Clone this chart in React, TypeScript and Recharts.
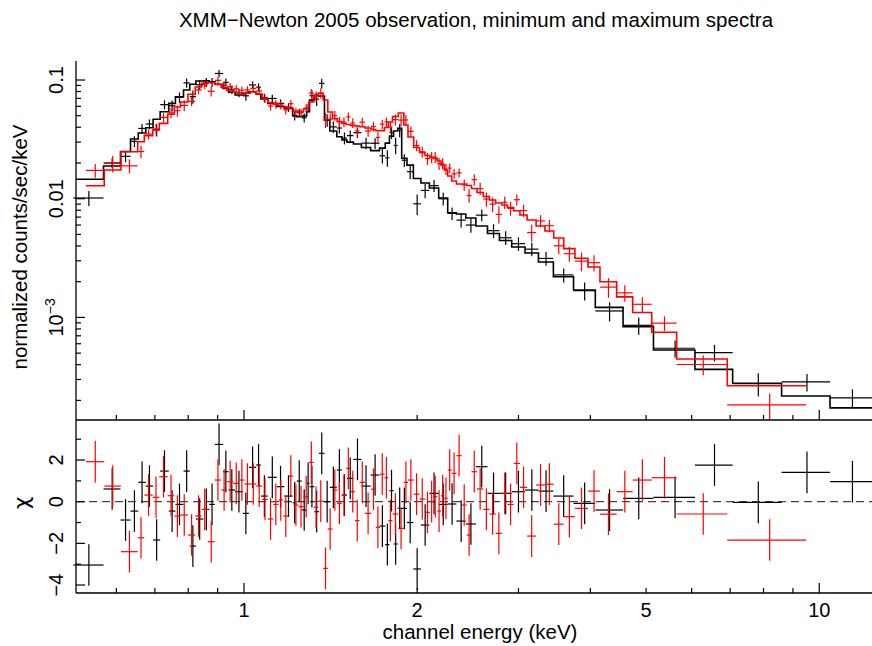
import {
  ComposedChart,
  Line,
  Scatter,
  ErrorBar,
  XAxis,
  YAxis,
  ReferenceLine,
  Label,
} from "recharts";

// black = minimum spectrum, red = maximum spectrum (XMM-Newton 2005)
// bin edges in keV, model / data in counts/sec/keV, chi residuals

const blkEdges = [
  0.505, 0.57, 0.61, 0.635, 0.655, 0.675, 0.695, 0.715, 0.74, 0.76, 0.785, 0.805, 0.825, 0.85,
  0.87, 0.89, 0.92, 0.94, 0.965, 0.995, 1.02, 1.05, 1.07, 1.1, 1.14, 1.175, 1.215, 1.235, 1.26,
  1.285, 1.3, 1.325, 1.35, 1.38, 1.41, 1.45, 1.48, 1.51, 1.55, 1.6, 1.66, 1.72, 1.76, 1.79, 1.82,
  1.85, 1.88, 1.92, 1.97, 2.03, 2.1, 2.18, 2.26, 2.34, 2.43, 2.53, 2.65, 2.78, 2.92, 3.08, 3.25,
  3.45, 3.74, 4.08, 4.56, 5.15, 6.08, 7.07, 8.6, 10.44, 12.4,
];
const blkModel = [
  0.01457, 0.01886, 0.02497, 0.03184, 0.03577, 0.03963, 0.04665, 0.05405, 0.0636, 0.0723,
  0.0824, 0.092, 0.0981, 0.0986, 0.0968, 0.092, 0.0851, 0.0788, 0.0747, 0.0773,
  0.0797, 0.0758, 0.0692, 0.0636, 0.0598, 0.0575, 0.05, 0.0491, 0.0497, 0.054,
  0.0679, 0.0733, 0.0733, 0.046, 0.0372, 0.0333, 0.0312, 0.03, 0.0289, 0.027,
  0.0254, 0.0267, 0.0294, 0.0337, 0.0372, 0.0392, 0.0219, 0.0192, 0.0148, 0.01356,
  0.0123, 0.01014, 0.00762, 0.00743, 0.00688, 0.00589, 0.00509, 0.00444, 0.00392, 0.00349,
  0.00293, 0.0022, 0.0017, 0.001216, 0.000835, 0.000531, 0.000365, 0.000279, 0.000218, 0.000173,
];
const blkFlux = [
  0.01014, 0.02001, 0.02277, 0.03041, 0.0391, 0.0426, 0.03807, 0.062, 0.0607, 0.0714,
  0.0945, 0.0724, 0.0912, 0.0955, 0.0957, 0.1135, 0.0955, 0.0826, 0.0778, 0.0736,
  0.0909, 0.0871, 0.0708, 0.0699, 0.0635, 0.0588, 0.0498, 0.0532, 0.048, 0.058,
  0.0738, 0.0691, 0.0937, 0.046, 0.0403, 0.0394, 0.0324, 0.034, 0.036, 0.0294,
  0.0293, 0.023, 0.0221, 0.0359, 0.0281, 0.0377, 0.0211, 0.0169, 0.00906, 0.01174,
  0.01289, 0.00998, 0.00752, 0.0066, 0.006, 0.00727, 0.00538, 0.00469, 0.00418, 0.00376,
  0.00314, 0.00228, 0.00168, 0.001133, 0.000858, 0.00055, 0.000506, 0.000277, 0.000286, 0.00021,
];
const blkErr = [
  0.00146, 0.00189, 0.0025, 0.00318, 0.00358, 0.00396, 0.00467, 0.0054, 0.00636, 0.00723,
  0.00824, 0.0092, 0.00834, 0.00838, 0.00823, 0.00782, 0.00723, 0.0067, 0.00635, 0.00657,
  0.00677, 0.00644, 0.00588, 0.00541, 0.00508, 0.00489, 0.00425, 0.00417, 0.00422, 0.00459,
  0.00815, 0.0088, 0.0088, 0.00552, 0.00446, 0.004, 0.00374, 0.0036, 0.00347, 0.00324,
  0.00305, 0.0032, 0.00353, 0.00404, 0.00446, 0.0047, 0.00263, 0.0023, 0.00178, 0.00163,
  0.00148, 0.00122, 0.000914, 0.000892, 0.000826, 0.000825, 0.000713, 0.000622, 0.000549, 0.000489,
  0.00041, 0.000308, 0.000289, 0.000207, 0.000142, 0.0000903, 0.0000803, 0.0000614, 0.000048, 0.000038,
];
const blkChi = [
  -3.04, 0.61, -0.88, -0.45, 0.93, 0.75, -1.84, 1.47, -0.45, -0.13,
  1.47, -2.13, -0.83, -0.37, -0.13, 2.75, 1.44, 0.56, 0.48, -0.56,
  1.65, 1.76, 0.27, 1.17, 0.72, 0.27, -0.05, 0.99, -0.4, 0.88,
  0.72, -0.48, 2.32, 0, 0.69, 1.52, 0.32, 1.12, 2.03, 0.75,
  1.28, -1.17, -2.06, 0.53, -2.03, -0.32, -0.32, -1.0, -3.23, -1.12,
  0.4, -0.13, -0.11, -0.93, -1.07, 1.68, 0.4, 0.4, 0.48, 0.56,
  0.51, 0.27, -0.08, -0.4, 0.16, 0.21, 1.76, -0.03, 1.41, 0.96,
];

const redEdges = [
  0.5312, 0.5716, 0.6111, 0.6535, 0.671, 0.694, 0.7125, 0.7369, 0.7566, 0.7756, 0.799, 0.8228,
  0.8442, 0.8647, 0.8894, 0.9128, 0.9342, 0.9581, 0.981, 1.002, 1.0255, 1.0505, 1.0755, 1.0999,
  1.1244, 1.1472, 1.1704, 1.1941, 1.2182, 1.2439, 1.269, 1.2962, 1.3224, 1.3464, 1.3731, 1.3986,
  1.4252, 1.4521, 1.4785, 1.5054, 1.5315, 1.5594, 1.5878, 1.6231, 1.6638, 1.6947, 1.7235, 1.7548,
  1.7817, 1.8119, 1.8545, 1.8958, 1.9279, 1.9724, 2.0187, 2.0636, 2.1053, 2.1333, 2.1669, 2.1999,
  2.2292, 2.2598, 2.2963, 2.3409, 2.3902, 2.4385, 2.4858, 2.541, 2.6059, 2.6713, 2.7383, 2.8082,
  2.8707, 2.9428, 3.0178, 3.1059, 3.2198, 3.3352, 3.4547, 3.5958, 3.7611, 3.9619, 4.1574, 4.4443,
  4.7394, 5.1138, 5.6511, 6.9195, 9.4818,
];
const redModel = [
  0.01287, 0.01745, 0.02489, 0.0302, 0.03394, 0.03791, 0.04316, 0.0514, 0.05922, 0.06526,
  0.07576, 0.0873, 0.0938, 0.0949, 0.0917, 0.0865, 0.0816, 0.0788, 0.0758, 0.0773,
  0.0797, 0.0762, 0.0688, 0.0646, 0.063, 0.061, 0.0592, 0.0575, 0.0548, 0.0541,
  0.057, 0.0653, 0.0747, 0.0773, 0.0679, 0.0538, 0.0474, 0.0447, 0.043, 0.0422,
  0.0415, 0.041, 0.0404, 0.0394, 0.0383, 0.0374, 0.0375, 0.0398, 0.0443, 0.0493,
  0.0527, 0.0418, 0.0331, 0.027, 0.0245, 0.0231, 0.0223, 0.0218, 0.0208, 0.0192,
  0.01745, 0.01553, 0.0141, 0.0133, 0.0133, 0.01292, 0.01219, 0.01128, 0.01043, 0.00975,
  0.0092, 0.00885, 0.00843, 0.00792, 0.00729, 0.00661, 0.00589, 0.00534, 0.00467, 0.0038,
  0.00315, 0.00266, 0.002, 0.00149, 0.0011, 0.000749, 0.000446, 0.000266,
];
const redFlux = [
  0.01732, 0.0198, 0.01892, 0.02498, 0.03503, 0.03871, 0.04834, 0.05289, 0.05513, 0.06108,
  0.06606, 0.08248, 0.09102, 0.08032, 0.09933, 0.09038, 0.08787, 0.08435, 0.08211, 0.08256,
  0.08512, 0.08077, 0.0694, 0.06031, 0.06234, 0.06139, 0.05593, 0.06316, 0.0541, 0.05306,
  0.05809, 0.07764, 0.07268, 0.07753, 0.04617, 0.04675, 0.05005, 0.04434, 0.04429, 0.04895,
  0.04349, 0.03727, 0.04416, 0.03719, 0.0406, 0.0328, 0.04245, 0.04438, 0.04027, 0.04639,
  0.04595, 0.04608, 0.03689, 0.02807, 0.02485, 0.0218, 0.0223, 0.02238, 0.01977, 0.01981,
  0.01776, 0.01813, 0.01621, 0.01653, 0.01307, 0.01065, 0.01447, 0.01217, 0.00993, 0.009,
  0.00738, 0.00931, 0.00829, 0.00981, 0.00794, 0.00519, 0.0065, 0.00592, 0.00401, 0.00344,
  0.00298, 0.00289, 0.0018, 0.00161, 0.00129, 0.000895, 0.000401, 0.000183,
];
const redErr = [
  0.00232, 0.00314, 0.00249, 0.00302, 0.00339, 0.00379, 0.00432, 0.00514, 0.00592, 0.00653,
  0.00606, 0.00698, 0.0075, 0.00759, 0.00734, 0.00692, 0.00653, 0.0063, 0.00606, 0.00618,
  0.00638, 0.0061, 0.0055, 0.00517, 0.00504, 0.00488, 0.00474, 0.0046, 0.00438, 0.00433,
  0.00456, 0.00653, 0.00747, 0.00773, 0.00679, 0.00538, 0.00474, 0.00447, 0.0043, 0.00422,
  0.00415, 0.0041, 0.00404, 0.00394, 0.00383, 0.00374, 0.00375, 0.00398, 0.00443, 0.00493,
  0.00527, 0.0046, 0.00364, 0.00297, 0.0027, 0.00254, 0.00245, 0.0024, 0.00229, 0.00211,
  0.00192, 0.00171, 0.00155, 0.00146, 0.00146, 0.00142, 0.00158, 0.00147, 0.00136, 0.00127,
  0.0012, 0.00115, 0.0011, 0.00103, 0.000948, 0.000859, 0.000766, 0.000694, 0.000607, 0.000494,
  0.000536, 0.000452, 0.00034, 0.000253, 0.000187, 0.000127, 0.0000758, 0.0000452,
];
const redChi = [
  1.92, 0.75, -2.4, -1.73, 0.32, 0.21, 1.2, 0.29, -0.69, -0.64,
  -1.6, -0.69, -0.37, -1.92, 1.04, 0.56, 0.96, 0.88, 1.04, 0.85,
  0.85, 0.75, 0.11, -0.83, -0.13, 0.08, -0.69, 1.23, -0.16, -0.24,
  0.24, 1.89, -0.27, 0.03, -3.2, -1.31, 0.56, -0.08, 0.3, 1.6,
  0.48, -0.91, 0.93, -0.56, 0.6, -1.23, 1.32, 1.15, -0.91, -0.59,
  -1.28, 0.93, 1.04, 0.36, 0.13, -0.51, 0, 0.24, -0.45, 0.29,
  0.16, 1.52, 1.36, 2.21, -0.16, -1.6, 1.44, 0.61, -0.37, -0.59,
  -1.52, 0.4, -0.13, 1.84, 0.69, -1.65, 0.8, 0.84, -1.08, -0.72,
  -0.32, 0.51, -0.6, 0.48, 1.04, 1.15, -0.59, -1.84,
];

const xTicks = [0.6, 0.7, 0.8, 0.9, 1, 2, 3, 4, 5, 6, 7, 8, 9, 10];
const xTickLabels = [1, 2, 5, 10];
const yTicks = [
  2e-4, 3e-4, 4e-4, 5e-4, 6e-4, 7e-4, 8e-4, 9e-4, 1e-3, 2e-3, 3e-3, 4e-3, 5e-3, 6e-3, 7e-3, 8e-3,
  9e-3, 0.01, 0.02, 0.03, 0.04, 0.05, 0.06, 0.07, 0.08, 0.09, 0.1,
];
const chiTicks = [-4, -3, -2, -1, 0, 1, 2, 3];
const chiTickLabels = [-4, -2, 0, 2];

const X_DOMAIN = [0.5105, 12.35];
const Y_DOMAIN = [1.367e-4, 0.1446];
const CHI_DOMAIN = [-4.383, 3.922];

const FONT = '"Liberation Sans", Arial, Helvetica, sans-serif';
const TICK_FS = 20;
const LABEL_FS = 20.5;
const RED = "#ff0000";
const BLK = "#000000";

// step line: one point per bin low edge plus the final high edge
function steps(edges: number[], model: number[]) {
  const pts = model.map((m, i) => ({ x: edges[i], y: m }));
  pts.push({ x: edges[edges.length - 1], y: model[model.length - 1] });
  return pts;
}

function crosses(edges: number[], vals: number[], errs: number[] | null) {
  return vals.map((v, i) => {
    const lo = edges[i];
    const hi = edges[i + 1];
    const c = (lo + hi) / 2;
    return { x: c, y: v, xe: [c - lo, hi - c], ye: errs ? errs[i] : 1 };
  });
}

const blkSteps = steps(blkEdges, blkModel);
const redSteps = steps(redEdges, redModel);
const blkData = crosses(blkEdges, blkFlux, blkErr);
const redData = crosses(redEdges, redFlux, redErr);
const blkRes = crosses(blkEdges, blkChi, null);
const redRes = crosses(redEdges, redChi, null);

const isDecade = (v: number) => Math.abs(Math.log10(v) - Math.round(Math.log10(v))) < 1e-6;

const NoDot = () => <g />;

function EnergyTick(props: any) {
  const { x, y, payload, dir, labels } = props;
  const v = payload.value;
  const len = isDecade(v) ? 10 : 5;
  return (
    <g>
      <line x1={x} y1={y} x2={x} y2={y + dir * len} stroke={BLK} strokeWidth={1.2} />
      {labels && xTickLabels.includes(v) && (
        <text x={x} y={y + 24} textAnchor="middle" fontSize={TICK_FS} fontFamily={FONT} fill={BLK}>
          {v}
        </text>
      )}
    </g>
  );
}

function FluxTick(props: any) {
  const { x, y, payload } = props;
  const v = payload.value;
  const major = isDecade(v);
  let label: any = null;
  if (major) {
    if (v > 0.05) label = "0.1";
    else if (v > 0.005) label = "0.01";
    else
      label = (
        <>
          <tspan>10</tspan>
          <tspan dy={-8} fontSize={14}>
            −3
          </tspan>
        </>
      );
  }
  return (
    <g>
      <line x1={x} y1={y} x2={x + (major ? 9 : 5)} y2={y} stroke={BLK} strokeWidth={1.2} />
      {label && (
        <text
          transform={`translate(${x - 13},${y}) rotate(-90)`}
          textAnchor="middle"
          fontSize={TICK_FS}
          fontFamily={FONT}
          fill={BLK}
        >
          {label}
        </text>
      )}
    </g>
  );
}

function ChiTick(props: any) {
  const { x, y, payload } = props;
  const v = payload.value;
  const major = chiTickLabels.includes(v);
  return (
    <g>
      <line x1={x} y1={y} x2={x + (major ? 9 : 5)} y2={y} stroke={BLK} strokeWidth={1.2} />
      {major && (
        <text
          transform={`translate(${x - 13},${y}) rotate(-90)`}
          textAnchor="middle"
          fontSize={TICK_FS}
          fontFamily={FONT}
          fill={BLK}
        >
          {v < 0 ? `−${Math.abs(v)}` : v}
        </text>
      )}
    </g>
  );
}

const axisLine = { stroke: BLK, strokeWidth: 1.3 };

export default function App() {
  return (
    <div
      style={{
        position: "absolute",
        left: 0,
        top: 0,
        width: 872,
        height: 646,
        background: "#fff",
        overflow: "hidden",
      }}
    >
      <div
        style={{
          position: "absolute",
          left: 76,
          top: 6,
          width: 800,
          textAlign: "center",
          fontFamily: FONT,
          fontSize: 20.5,
          lineHeight: "27px",
          color: BLK,
        }}
      >
        XMM−Newton 2005 observation, minimum and maximum spectra
      </div>

      <div style={{ position: "absolute", left: 0, top: 0 }}>
        <ComposedChart width={872} height={430} margin={{ top: 61, right: 0, bottom: 0, left: 0 }}>
          <XAxis
            dataKey="x"
            type="number"
            scale="log"
            domain={X_DOMAIN}
            allowDataOverflow
            ticks={xTicks}
            interval={0}
            height={10}
            tickSize={0}
            tickMargin={0}
            tickLine={false}
            axisLine={axisLine}
            tick={(p: any) => <EnergyTick {...p} dir={-1} labels={false} />}
          />
          <XAxis
            xAxisId="t"
            orientation="top"
            type="number"
            scale="log"
            domain={X_DOMAIN}
            allowDataOverflow
            ticks={xTicks}
            interval={0}
            height={0}
            tickSize={0}
            tickMargin={0}
            tickLine={false}
            axisLine={axisLine}
            tick={(p: any) => <EnergyTick {...p} dir={1} labels={false} />}
          />
          <YAxis
            dataKey="y"
            type="number"
            scale="log"
            domain={Y_DOMAIN}
            allowDataOverflow
            ticks={yTicks}
            interval={0}
            width={76}
            tickSize={0}
            tickMargin={0}
            tickLine={false}
            axisLine={axisLine}
            tick={(p: any) => <FluxTick {...p} />}
          >
            <Label
              content={() => (
                <text
                  transform="translate(27,247) rotate(-90)"
                  textAnchor="middle"
                  fontSize={LABEL_FS}
                  fontFamily={FONT}
                  fill={BLK}
                >
                  normalized counts/sec/keV
                </text>
              )}
            />
          </YAxis>

          <Scatter data={blkData} fill={BLK} shape={NoDot} isAnimationActive={false} legendType="none">
            <ErrorBar dataKey="xe" direction="x" width={0} stroke={BLK} strokeWidth={1.2} />
            <ErrorBar dataKey="ye" direction="y" width={0} stroke={BLK} strokeWidth={1.2} />
          </Scatter>
          <Line
            data={blkSteps}
            dataKey="y"
            type="stepAfter"
            stroke={BLK}
            strokeWidth={1.6}
            dot={false}
            activeDot={false}
            isAnimationActive={false}
          />
          <Scatter data={redData} fill={RED} shape={NoDot} isAnimationActive={false} legendType="none">
            <ErrorBar dataKey="xe" direction="x" width={0} stroke={RED} strokeWidth={1.2} />
            <ErrorBar dataKey="ye" direction="y" width={0} stroke={RED} strokeWidth={1.2} />
          </Scatter>
          <Line
            data={redSteps}
            dataKey="y"
            type="stepAfter"
            stroke={RED}
            strokeWidth={1.6}
            dot={false}
            activeDot={false}
            isAnimationActive={false}
          />
        </ComposedChart>
      </div>

      <div style={{ position: "absolute", left: 0, top: 410 }}>
        <ComposedChart width={872} height={236} margin={{ top: 10, right: 0, bottom: 0, left: 0 }}>
          <XAxis
            dataKey="x"
            type="number"
            scale="log"
            domain={X_DOMAIN}
            allowDataOverflow
            ticks={xTicks}
            interval={0}
            height={53}
            tickSize={0}
            tickMargin={0}
            tickLine={false}
            axisLine={axisLine}
            tick={(p: any) => <EnergyTick {...p} dir={-1} labels />}
          >
            <Label
              content={() => (
                <text x={480} y={229} textAnchor="middle" fontSize={LABEL_FS} fontFamily={FONT} fill={BLK}>
                  channel energy (keV)
                </text>
              )}
            />
          </XAxis>
          <XAxis
            xAxisId="t"
            orientation="top"
            type="number"
            scale="log"
            domain={X_DOMAIN}
            allowDataOverflow
            ticks={xTicks}
            interval={0}
            height={0}
            tickSize={0}
            tickMargin={0}
            tickLine={false}
            axisLine={axisLine}
            tick={(p: any) => <EnergyTick {...p} dir={1} labels={false} />}
          />
          <YAxis
            dataKey="y"
            type="number"
            domain={CHI_DOMAIN}
            allowDataOverflow
            ticks={chiTicks}
            interval={0}
            width={76}
            tickSize={0}
            tickMargin={0}
            tickLine={false}
            axisLine={axisLine}
            tick={(p: any) => <ChiTick {...p} />}
          >
            <Label
              content={() => (
                <text
                  transform="translate(29,93) rotate(-90)"
                  textAnchor="middle"
                  fontSize={22}
                  fontFamily='"DejaVu Sans", sans-serif'
                  fill={BLK}
                >
                  χ
                </text>
              )}
            />
          </YAxis>
          <ReferenceLine y={0} stroke="#444" strokeWidth={1.3} strokeDasharray="8 5" />

          <Scatter data={blkRes} fill={BLK} shape={NoDot} isAnimationActive={false} legendType="none">
            <ErrorBar dataKey="xe" direction="x" width={0} stroke={BLK} strokeWidth={1.2} />
            <ErrorBar dataKey="ye" direction="y" width={0} stroke={BLK} strokeWidth={1.2} />
          </Scatter>
          <Scatter data={redRes} fill={RED} shape={NoDot} isAnimationActive={false} legendType="none">
            <ErrorBar dataKey="xe" direction="x" width={0} stroke={RED} strokeWidth={1.2} />
            <ErrorBar dataKey="ye" direction="y" width={0} stroke={RED} strokeWidth={1.2} />
          </Scatter>
        </ComposedChart>
      </div>
    </div>
  );
}
